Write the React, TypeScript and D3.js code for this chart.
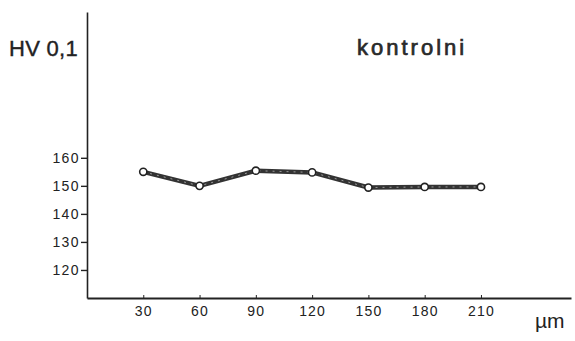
import React, { useEffect, useRef } from 'react';
import * as d3 from 'd3';

// depth (µm) and hardness HV 0,1
const depths = [30, 60, 90, 120, 150, 180, 210];
const hardness = [155, 150, 155.4, 154.8, 149.4, 149.6, 149.6];
const yTicks = [120, 130, 140, 150, 160];
const seriesLabel = 'kontrolni';
const yTitle = 'HV 0,1';
const xUnit = 'µm';

const W = 575;
const H = 341;
const ink = '#222';
const font = '"Liberation Sans", Arial, sans-serif';

const App = () => {
  const svgRef = useRef<SVGSVGElement>(null);

  useEffect(() => {
    const svg = d3.select(svgRef.current);
    svg.selectAll('*').remove();

    // scales
    const x = d3.scaleLinear().domain([0, 258]).range([87, 571]);
    const y = d3.scaleLinear().domain([110, 212]).range([298, 12]);

    // y axis
    const yAxis = svg
      .append('g')
      .attr('transform', `translate(${x(0)},0)`)
      .call(
        d3
          .axisLeft(y)
          .tickValues(yTicks)
          .tickSize(6)
          .tickSizeOuter(0)
          .tickPadding(1)
          .tickFormat(d => String(d))
      );
    yAxis.select('.domain').attr('stroke', ink).attr('stroke-width', 1.6);
    yAxis.selectAll('.tick line').attr('stroke', ink).attr('stroke-width', 1.4);
    yAxis
      .selectAll('.tick text')
      .attr('fill', ink)
      .style('font-family', font)
      .style('font-size', '14px')
      .style('letter-spacing', '1.4px');

    // x axis
    const xAxis = svg
      .append('g')
      .attr('transform', `translate(0,${y(110)})`)
      .call(
        d3
          .axisBottom(x)
          .tickValues(depths)
          .tickSize(-3)
          .tickSizeOuter(0)
          .tickPadding(8)
          .tickFormat(d => String(d))
      );
    xAxis.select('.domain').attr('stroke', ink).attr('stroke-width', 2);
    xAxis.selectAll('.tick line').attr('stroke', ink).attr('stroke-width', 1);
    xAxis
      .selectAll('.tick text')
      .attr('fill', ink)
      .style('font-family', font)
      .style('font-size', '14px')
      .style('letter-spacing', '1.2px');

    // the curve
    const pts = depths.map((d, i) => [x(d), y(hardness[i])] as [number, number]);
    const line = d3.line();
    svg
      .append('path')
      .attr('d', line(pts))
      .attr('fill', 'none')
      .attr('stroke', '#333')
      .attr('stroke-width', 4.5)
      .attr('stroke-linejoin', 'round');
    svg
      .append('path')
      .attr('d', line(pts))
      .attr('fill', 'none')
      .attr('stroke', '#999')
      .attr('stroke-width', 1)
      .attr('stroke-dasharray', '2,5');

    svg
      .selectAll('circle')
      .data(pts)
      .enter()
      .append('circle')
      .attr('cx', d => d[0])
      .attr('cy', d => d[1])
      .attr('r', 3.6)
      .attr('fill', '#fff')
      .attr('stroke', ink)
      .attr('stroke-width', 1.6);

    // titles
    svg
      .append('text')
      .attr('x', 9)
      .attr('y', 56)
      .attr('fill', ink)
      .attr('stroke', ink)
      .attr('stroke-width', 0.4)
      .style('font-family', font)
      .style('font-size', '22px')
      .style('letter-spacing', '0.3px')
      .text(yTitle);

    svg
      .append('text')
      .attr('x', 357)
      .attr('y', 55)
      .attr('fill', '#2a2a2a')
      .attr('stroke', '#2a2a2a')
      .attr('stroke-width', 0.7)
      .style('font-family', font)
      .style('font-size', '22px')
      .style('letter-spacing', '3px')
      .text(seriesLabel);

    svg
      .append('text')
      .attr('x', 535)
      .attr('y', 328)
      .attr('fill', ink)
      .style('font-family', font)
      .style('font-size', '21px')
      .text(xUnit);
  }, []);

  return (
    <svg
      ref={svgRef}
      width={W}
      height={H}
      style={{ position: 'absolute', left: 0, top: 0, background: '#fff' }}
    />
  );
};

export default App;
